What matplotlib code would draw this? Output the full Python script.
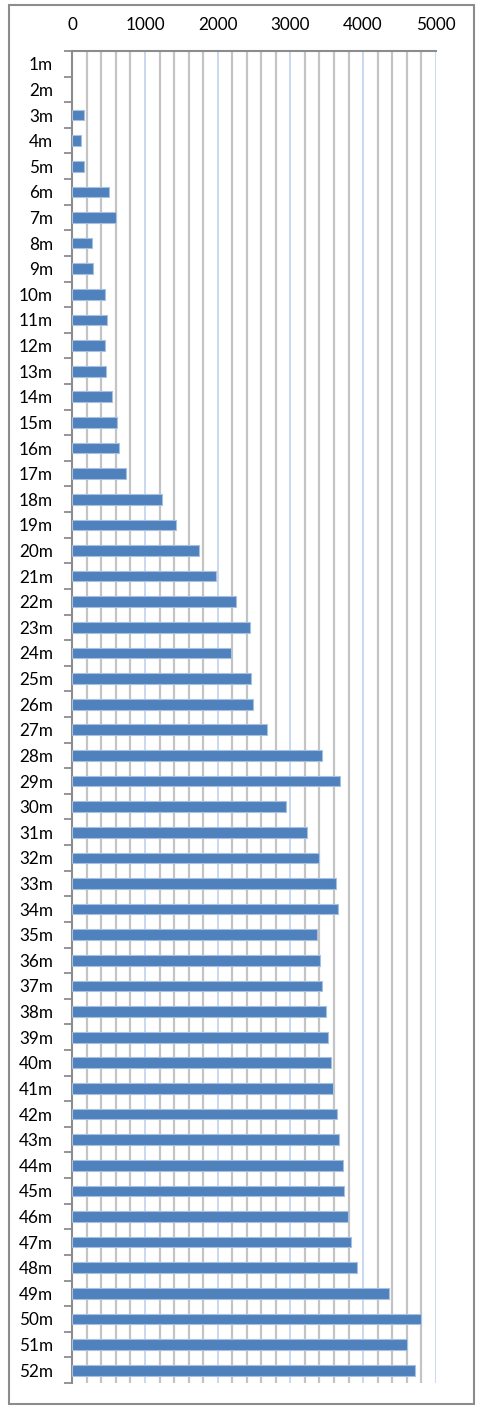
import numpy as np
import matplotlib
matplotlib.use("Agg")
import matplotlib.pyplot as plt
from matplotlib.patches import Rectangle

# Monthly counts, one value per month label
months = [f"{i}m" for i in range(1, 53)]
values = [
    0, 0, 160, 115, 155, 510, 605, 268, 290, 455,
    472, 455, 468, 542, 619, 638, 743, 1230, 1426, 1747,
    1977, 2256, 2448, 2179, 2462, 2481, 2682, 3439, 3686, 2939,
    3232, 3393, 3627, 3659, 3366, 3411, 3435, 3490, 3521, 3559,
    3582, 3637, 3664, 3719, 3737, 3788, 3834, 3912, 4356, 4792,
    4604, 4718,
]
x_major = [0, 1000, 2000, 3000, 4000, 5000]
x_minor_step = 200

W, H = 482, 1408
fig = plt.figure(figsize=(W / 100, H / 100), dpi=100)
plt.rcParams["font.family"] = ["Lato", "DejaVu Sans"]

# outer chart border
fig.patches.append(Rectangle((9 / W, 1 - 1404 / H), (474 - 9) / W, (1404 - 5) / H,
                             transform=fig.transFigure, fill=False,
                             edgecolor="#8c8c8c", linewidth=1.5))

left, right, top, bottom = 72.3, 435.8, 51, 1383
ax = fig.add_axes([left / W, 1 - bottom / H, (right - left) / W, (bottom - top) / H])

y = np.arange(len(months))
edge = ["#A7C0E0" if v > 0 else "none" for v in values]
ax.barh(y, values, height=0.42, color="#4F81BD", edgecolor=edge,
        linewidth=0.8, zorder=3)

ax.set_xlim(0, 5000)
ax.set_ylim(len(months) - 0.5, -0.5)

ax.xaxis.tick_top()
ax.set_xticks(x_major)
ax.set_xticks(np.arange(0, 5001, x_minor_step), minor=True)
ax.tick_params(axis="x", which="both", length=0, pad=13, labelsize=12.3,
               colors="#000000")
ax.grid(axis="x", which="minor", color="#C4C4C4", linewidth=1.6, zorder=0)
ax.grid(axis="x", which="major", color="#C9D8EF", linewidth=1.4, zorder=0)

ax.set_yticks(y)
ax.set_yticklabels(months)
ax.set_yticks(np.arange(-0.5, len(months), 1), minor=True)
ax.tick_params(axis="y", which="major", length=0, pad=14, labelsize=12.3)
ax.tick_params(axis="y", which="minor", length=6, width=1.3, color="#8c8c8c")

for side in ("right", "bottom"):
    ax.spines[side].set_visible(False)
for side in ("top", "left"):
    ax.spines[side].set_color("#8c8c8c")
    ax.spines[side].set_linewidth(1.5)

fig.savefig("out.png", dpi=100)
